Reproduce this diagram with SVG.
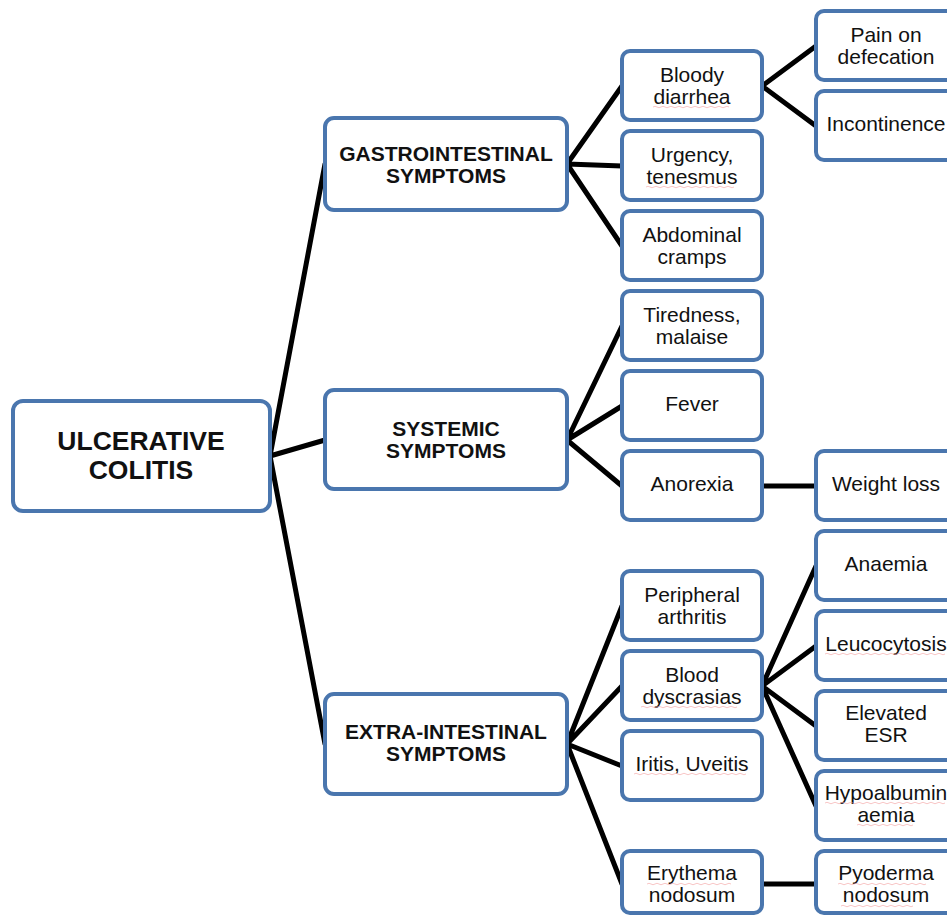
<svg xmlns="http://www.w3.org/2000/svg" width="947" height="916" viewBox="0 0 947 916">
  <style>
    .box { fill: #ffffff; stroke: #4a76ae; stroke-width: 4; }
    .lnk { stroke: #000000; stroke-width: 5; fill: none; stroke-linecap: round; }
    .t { font-family: "Liberation Sans", Arial, sans-serif; font-size: 21px; fill: #111111; text-anchor: middle; }
    .h { font-family: "Liberation Sans", Arial, sans-serif; font-size: 21px; font-weight: bold; fill: #111111; text-anchor: middle; }
    .m { font-family: "Liberation Sans", Arial, sans-serif; font-size: 26.5px; font-weight: bold; fill: #111111; text-anchor: middle; }
    .sq { stroke: #f4a0a0; stroke-width: 1; fill: none; opacity: 0.6; }
  </style>
  <rect width="947" height="916" fill="#ffffff"/>

  <!-- connectors -->
  <g id="connectors">
    <path class="lnk" d="M270,456 L325,164 M270,456 L325,440 M270,456 L325,744"/>
    <path class="lnk" d="M567,164 L622,86 M567,164 L622,166 M567,164 L622,246"/>
    <path class="lnk" d="M567,440 L622,326 M567,440 L622,406 M567,440 L622,486"/>
    <path class="lnk" d="M567,744 L622,606 M567,744 L622,686 M567,744 L622,766 M567,744 L622,884"/>
    <path class="lnk" d="M762,86 L816,46 M762,86 L816,126"/>
    <path class="lnk" d="M762,486 L816,486" stroke-linecap="butt"/>
    <path class="lnk" d="M762,686 L816,566 M762,686 L816,646 M762,686 L816,726 M762,686 L816,806"/>
    <path class="lnk" d="M762,884 L816,884"/>
  </g>

  <!-- root -->
  <g id="ulcerative-colitis">
    <rect class="box" x="13" y="401" width="257" height="110" rx="10"/>
    <text class="m" x="141" y="450">ULCERATIVE</text>
    <text class="m" x="141" y="479">COLITIS</text>
  </g>

  <!-- symptom groups -->
  <g id="gastrointestinal">
    <rect class="box" x="325" y="118" width="242" height="92" rx="9"/>
    <text class="h" x="446" y="161">GASTROINTESTINAL</text>
    <text class="h" x="446" y="183">SYMPTOMS</text>
  </g>
  <g id="systemic">
    <rect class="box" x="325" y="390" width="242" height="99" rx="9"/>
    <text class="h" x="446" y="436">SYSTEMIC</text>
    <text class="h" x="446" y="458">SYMPTOMS</text>
  </g>
  <g id="extra-intestinal">
    <rect class="box" x="325" y="694" width="242" height="100" rx="9"/>
    <text class="h" x="446" y="739">EXTRA-INTESTINAL</text>
    <text class="h" x="446" y="761">SYMPTOMS</text>
  </g>

  <!-- second level -->
  <g id="bloody-diarrhea">
    <rect class="box" x="622" y="51" width="140" height="69" rx="8"/>
    <text class="t" x="692" y="82">Bloody</text>
    <text class="t" x="692" y="104">diarrhea</text>
    <path class="sq" d="M653,107 q2,-1.5 4,0 t4,0 t4,0 t4,0 t4,0 t4,0 t4,0 t4,0 t4,0 t4,0 t4,0 t4,0 t4,0 t4,0 t4,0 t4,0 t4,0 t4,0 t4,0"/>
  </g>
  <g id="urgency">
    <rect class="box" x="622" y="131" width="140" height="69" rx="8"/>
    <text class="t" x="692" y="162">Urgency,</text>
    <text class="t" x="692" y="184">tenesmus</text>
    <path class="sq" d="M646,187 q2,-1.5 4,0 t4,0 t4,0 t4,0 t4,0 t4,0 t4,0 t4,0 t4,0 t4,0 t4,0 t4,0 t4,0 t4,0 t4,0 t4,0 t4,0 t4,0 t4,0 t4,0 t4,0 t4,0"/>
  </g>
  <g id="abdominal-cramps">
    <rect class="box" x="622" y="211" width="140" height="69" rx="8"/>
    <text class="t" x="692" y="242">Abdominal</text>
    <text class="t" x="692" y="264">cramps</text>
  </g>
  <g id="tiredness">
    <rect class="box" x="622" y="291" width="140" height="69" rx="8"/>
    <text class="t" x="692" y="322">Tiredness,</text>
    <text class="t" x="692" y="344">malaise</text>
  </g>
  <g id="fever">
    <rect class="box" x="622" y="371" width="140" height="69" rx="8"/>
    <text class="t" x="692" y="411">Fever</text>
  </g>
  <g id="anorexia">
    <rect class="box" x="622" y="451" width="140" height="69" rx="8"/>
    <text class="t" x="692" y="491">Anorexia</text>
  </g>
  <g id="peripheral-arthritis">
    <rect class="box" x="622" y="571" width="140" height="69" rx="8"/>
    <text class="t" x="692" y="602">Peripheral</text>
    <text class="t" x="692" y="624">arthritis</text>
  </g>
  <g id="blood-dyscrasias">
    <rect class="box" x="622" y="651" width="140" height="69" rx="8"/>
    <text class="t" x="692" y="682">Blood</text>
    <text class="t" x="692" y="704">dyscrasias</text>
    <path class="sq" d="M641,707 q2,-1.5 4,0 t4,0 t4,0 t4,0 t4,0 t4,0 t4,0 t4,0 t4,0 t4,0 t4,0 t4,0 t4,0 t4,0 t4,0 t4,0 t4,0 t4,0 t4,0 t4,0 t4,0 t4,0 t4,0 t4,0"/>
  </g>
  <g id="iritis-uveitis">
    <rect class="box" x="622" y="731" width="140" height="69" rx="8"/>
    <text class="t" x="692" y="771">Iritis, Uveitis</text>
    <path class="sq" d="M634,774 q2,-1.5 4,0 t4,0 t4,0 t4,0 t4,0 t4,0 t4,0 t4,0 t4,0 t4,0 t4,0 t4,0 t4,0 t4,0 t4,0 t4,0 t4,0 t4,0 t4,0 t4,0 t4,0 t4,0 t4,0 t4,0 t4,0 t4,0 t4,0 t4,0"/>
  </g>
  <g id="erythema-nodosum">
    <rect class="box" x="622" y="851" width="140" height="62" rx="8"/>
    <text class="t" x="692" y="880">Erythema</text>
    <text class="t" x="692" y="902">nodosum</text>
    <path class="sq" d="M647,884 q2,-1.5 4,0 t4,0 t4,0 t4,0 t4,0 t4,0 t4,0 t4,0 t4,0 t4,0 t4,0 t4,0 t4,0 t4,0 t4,0 t4,0 t4,0 t4,0 t4,0 t4,0 t4,0"/>
  </g>

  <!-- third level (runs past the right edge) -->
  <g id="pain-on-defecation">
    <rect class="box" x="816" y="11" width="150" height="69" rx="8"/>
    <text class="t" x="886" y="42">Pain on</text>
    <text class="t" x="886" y="64">defecation</text>
  </g>
  <g id="incontinence">
    <rect class="box" x="816" y="91" width="150" height="69" rx="8"/>
    <text class="t" x="886" y="131">Incontinence</text>
  </g>
  <g id="weight-loss">
    <rect class="box" x="816" y="451" width="150" height="69" rx="8"/>
    <text class="t" x="886" y="491">Weight loss</text>
  </g>
  <g id="anaemia">
    <rect class="box" x="816" y="531" width="150" height="69" rx="8"/>
    <text class="t" x="886" y="571">Anaemia</text>
  </g>
  <g id="leucocytosis">
    <rect class="box" x="816" y="611" width="150" height="69" rx="8"/>
    <text class="t" x="886" y="651">Leucocytosis</text>
    <path class="sq" d="M825,654 q2,-1.5 4,0 t4,0 t4,0 t4,0 t4,0 t4,0 t4,0 t4,0 t4,0 t4,0 t4,0 t4,0 t4,0 t4,0 t4,0 t4,0 t4,0 t4,0 t4,0 t4,0 t4,0 t4,0 t4,0 t4,0 t4,0 t4,0 t4,0 t4,0 t4,0 t4,0"/>
  </g>
  <g id="elevated-esr">
    <rect class="box" x="816" y="691" width="150" height="69" rx="8"/>
    <text class="t" x="886" y="720">Elevated</text>
    <text class="t" x="886" y="742">ESR</text>
  </g>
  <g id="hypoalbuminaemia">
    <rect class="box" x="816" y="771" width="150" height="69" rx="8"/>
    <text class="t" x="886" y="800">Hypoalbumin</text>
    <text class="t" x="886" y="822">aemia</text>
    <path class="sq" d="M825,803 q2,-1.5 4,0 t4,0 t4,0 t4,0 t4,0 t4,0 t4,0 t4,0 t4,0 t4,0 t4,0 t4,0 t4,0 t4,0 t4,0 t4,0 t4,0 t4,0 t4,0 t4,0 t4,0 t4,0 t4,0 t4,0 t4,0 t4,0 t4,0 t4,0 t4,0 t4,0"/>
    <path class="sq" d="M857,825 q2,-1.5 4,0 t4,0 t4,0 t4,0 t4,0 t4,0 t4,0 t4,0 t4,0 t4,0 t4,0 t4,0 t4,0 t4,0"/>
  </g>
  <g id="pyoderma-nodosum">
    <rect class="box" x="816" y="851" width="150" height="62" rx="8"/>
    <text class="t" x="886" y="880">Pyoderma</text>
    <text class="t" x="886" y="902">nodosum</text>
    <path class="sq" d="M838,884 q2,-1.5 4,0 t4,0 t4,0 t4,0 t4,0 t4,0 t4,0 t4,0 t4,0 t4,0 t4,0 t4,0 t4,0 t4,0 t4,0 t4,0 t4,0 t4,0 t4,0 t4,0 t4,0 t4,0"/>
    <path class="sq" d="M841,906 q2,-1.5 4,0 t4,0 t4,0 t4,0 t4,0 t4,0 t4,0 t4,0 t4,0 t4,0 t4,0 t4,0 t4,0 t4,0 t4,0 t4,0 t4,0 t4,0"/>
  </g>
</svg>
